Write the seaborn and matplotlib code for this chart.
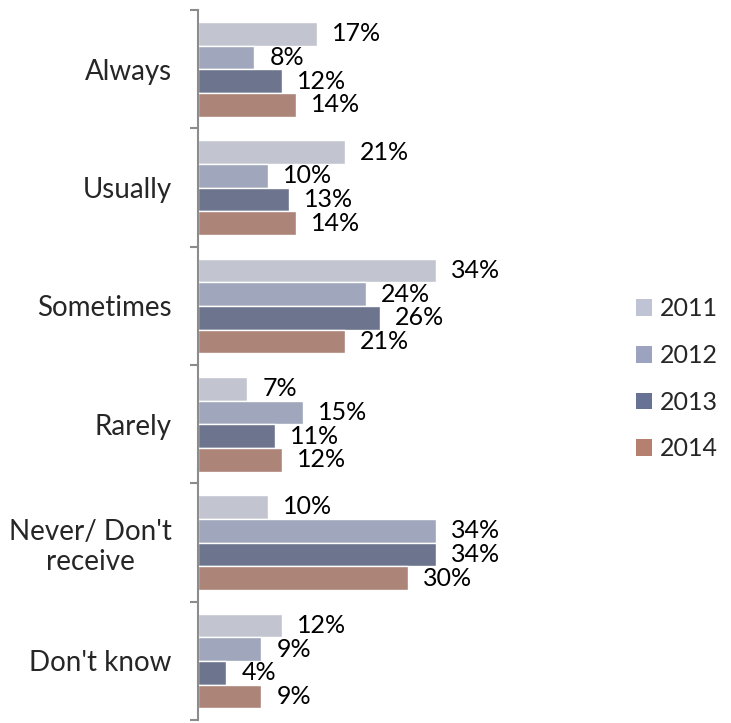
import matplotlib
matplotlib.use("Agg")
import matplotlib.pyplot as plt
from matplotlib.patches import Patch
from matplotlib.ticker import FixedLocator
import seaborn as sns
import pandas as pd

# Survey responses by year (percent)
categories = ["Always", "Usually", "Sometimes", "Rarely", "Never/ Don't\nreceive", "Don't know"]
years = ["2011", "2012", "2013", "2014"]
pct_2011 = [17, 21, 34, 7, 10, 12]
pct_2012 = [8, 10, 24, 15, 34, 9]
pct_2013 = [12, 13, 26, 11, 34, 4]
pct_2014 = [14, 14, 21, 12, 30, 9]
colors = ["#BFC3D3", "#9BA3C0", "#677294", "#B5806F"]

series = [pct_2011, pct_2012, pct_2013, pct_2014]
rows = []
for year, vals in zip(years, series):
    for cat, v in zip(categories, vals):
        rows.append({"Category": cat, "Year": year, "Percent": v})
df = pd.DataFrame(rows)

sns.set_style("white")
plt.rcParams["font.family"] = ["Lato", "DejaVu Sans"]

fig = plt.figure(figsize=(7.31, 7.23), dpi=100)
ax = fig.add_axes([198 / 731, 3 / 723, 350 / 731, 710 / 723])

sns.barplot(data=df, y="Category", x="Percent", hue="Year", order=categories,
            hue_order=years, palette=colors, orient="h", width=0.8,
            edgecolor="white", linewidth=1.0, ax=ax, legend=False)

for container in ax.containers:
    ax.bar_label(container, labels=[f"{int(v)}%" for v in container.datavalues],
                 padding=11, fontsize=18, color="black")

ax.set_xlim(0, 50)
ax.set_ylim(len(categories) - 0.5, -0.5)
ax.set_xlabel("")
ax.set_ylabel("")
ax.set_xticks([])

ax.yaxis.set_minor_locator(FixedLocator([i - 0.5 for i in range(len(categories) + 1)]))
ax.tick_params(axis="y", which="major", length=0, pad=19, labelsize=20)
ax.tick_params(axis="y", which="minor", length=6, width=1.5, color="#8C8C8C", left=True)
for lbl in ax.get_yticklabels():
    lbl.set_multialignment("center")

for side in ["top", "right", "bottom"]:
    ax.spines[side].set_visible(False)
ax.spines["left"].set_color("#8C8C8C")
ax.spines["left"].set_linewidth(1.5)

handles = [Patch(facecolor=c, edgecolor="none", label=y) for c, y in zip(colors, years)]
fig.legend(handles=handles, loc="center left", bbox_to_anchor=(636 / 731, 0.476),
           frameon=False, fontsize=18, handlelength=0.65, handleheight=0.65,
           handletextpad=0.3, labelspacing=0.95, borderpad=0, borderaxespad=0)

fig.savefig("out.png", dpi=100)
